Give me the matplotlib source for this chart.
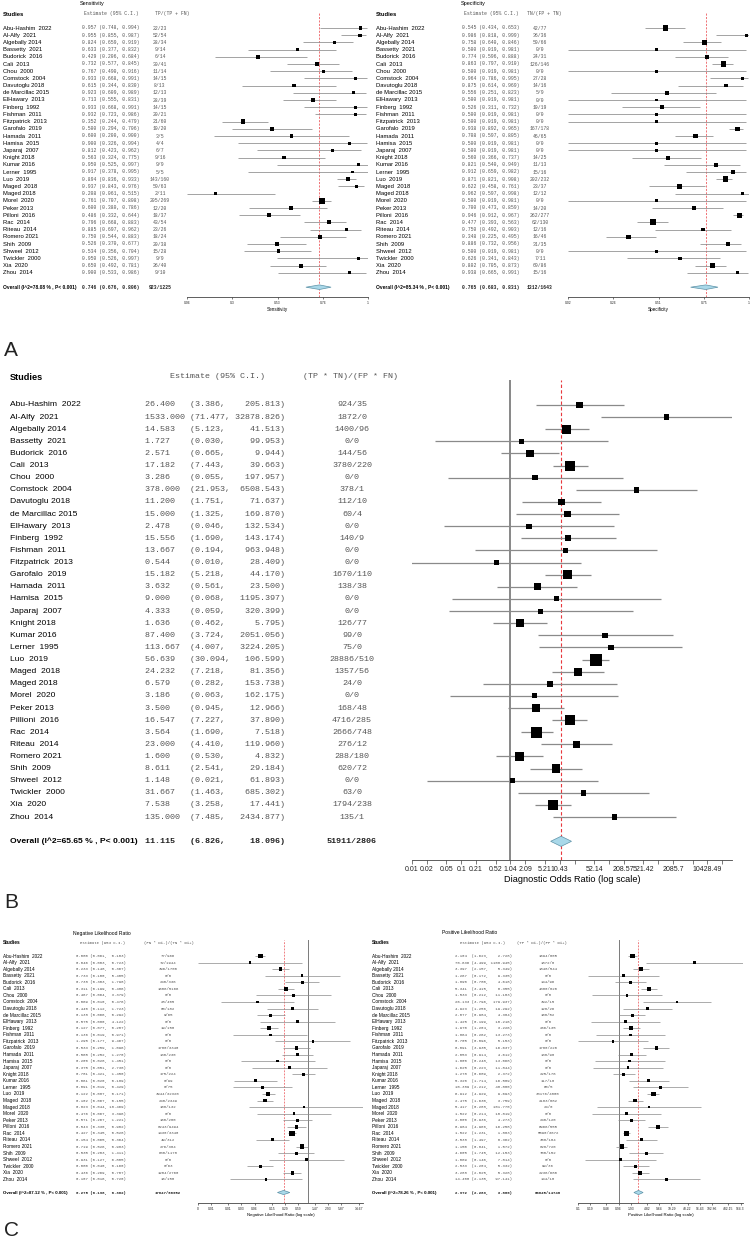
import numpy as np
import matplotlib
matplotlib.use("Agg")
import matplotlib.pyplot as plt
from matplotlib import transforms

W, H = 750, 1240

studies = ["Abu-Hashim  2022", "Al-Alfy  2021", "Algebally 2014", "Bassetty  2021", "Budorick  2016",
           "Cali  2013", "Chou  2000", "Comstock  2004", "Davutoglu 2018", "de Marcillac 2015",
           "ElHawary  2013", "Finberg  1992", "Fishman  2011", "Fitzpatrick  2013", "Garofalo  2019",
           "Hamada  2011", "Hamisa  2015", "Japaraj  2007", "Knight 2018", "Kumar 2016",
           "Lerner  1995", "Luo  2019", "Maged  2018", "Maged 2018", "Morel  2020",
           "Peker 2013", "Pilloni  2016", "Rac  2014", "Riteau  2014", "Romero 2021",
           "Shih  2009", "Shweel  2012", "Twickler  2000", "Xia  2020", "Zhou  2014"]
studies_b = [s.replace("Pilloni", "Pillioni") for s in studies]

# sensitivity
sens_est = [0.957, 0.955, 0.824, 0.633, 0.429, 0.732, 0.767, 0.933, 0.615, 0.923, 0.713, 0.933, 0.932, 0.352,
            0.500, 0.600, 0.900, 0.812, 0.563, 0.950, 0.917, 0.894, 0.937, 0.208, 0.761, 0.600, 0.486, 0.796,
            0.885, 0.750, 0.526, 0.534, 0.950, 0.650, 0.900]
sens_lo = [0.748, 0.855, 0.659, 0.377, 0.206, 0.577, 0.490, 0.668, 0.344, 0.609, 0.555, 0.668, 0.723, 0.244,
           0.294, 0.200, 0.326, 0.423, 0.324, 0.525, 0.378, 0.836, 0.843, 0.061, 0.707, 0.380, 0.332, 0.668,
           0.697, 0.544, 0.370, 0.356, 0.526, 0.492, 0.533]
sens_hi = [0.994, 0.987, 0.919, 0.832, 0.684, 0.845, 0.916, 0.991, 0.830, 0.989, 0.831, 0.991, 0.986, 0.479,
           0.706, 0.900, 0.994, 0.962, 0.775, 0.997, 0.995, 0.933, 0.976, 0.515, 0.808, 0.786, 0.644, 0.883,
           0.962, 0.883, 0.677, 0.704, 0.997, 0.781, 0.986]
sens_n = ["22/23", "52/54", "28/34", "9/14", "6/14", "30/41", "11/14", "14/15", "8/13", "12/13", "28/39",
          "14/15", "20/21", "21/60", "10/20", "3/5", "4/4", "6/7", "9/16", "9/9", "5/5", "143/160", "59/63",
          "2/11", "205/269", "12/20", "18/37", "43/54", "23/26", "18/24", "20/38", "15/28", "9/9", "26/40", "9/10"]
sens_overall = [0.746, 0.676, 0.806]
sens_overall_n = "923/1225"
sens_i2 = "78.08"

# specificity
spec_est = [0.545, 0.986, 0.758, 0.500, 0.774, 0.863, 0.500, 0.964, 0.875, 0.556, 0.500, 0.526, 0.500, 0.500,
            0.938, 0.708, 0.500, 0.500, 0.560, 0.821, 0.912, 0.871, 0.622, 0.962, 0.500, 0.700, 0.946, 0.477,
            0.750, 0.348, 0.886, 0.500, 0.626, 0.802, 0.938]
spec_lo = [0.434, 0.818, 0.640, 0.019, 0.596, 0.797, 0.019, 0.786, 0.614, 0.251, 0.019, 0.311, 0.019, 0.019,
           0.892, 0.597, 0.019, 0.019, 0.366, 0.540, 0.659, 0.821, 0.458, 0.597, 0.019, 0.473, 0.912, 0.393,
           0.492, 0.225, 0.732, 0.019, 0.341, 0.705, 0.665]
spec_hi = [0.653, 0.999, 0.846, 0.981, 0.888, 0.910, 0.981, 0.995, 0.969, 0.823, 0.981, 0.732, 0.981, 0.981,
           0.965, 0.805, 0.981, 0.981, 0.737, 0.949, 0.982, 0.908, 0.761, 0.998, 0.981, 0.859, 0.967, 0.563,
           0.903, 0.495, 0.956, 0.981, 0.843, 0.873, 0.991]
spec_n = ["42/77", "36/36", "50/66", "0/0", "24/31", "126/146", "0/0", "27/28", "14/16", "5/9", "0/0",
          "10/19", "0/0", "0/0", "167/178", "46/65", "0/0", "0/0", "14/25", "11/13", "15/16", "202/232",
          "23/37", "12/12", "0/0", "14/20", "262/277", "62/130", "12/16", "16/46", "31/35", "0/0", "7/11",
          "69/86", "15/16"]
spec_overall = [0.765, 0.683, 0.831]
spec_overall_n = "1312/1643"
spec_i2 = "85.34"

# diagnostic odds ratio
dor_est = [26.400, 1533.000, 14.583, 1.727, 2.571, 17.182, 3.286, 378.000, 11.200, 15.000, 2.478, 15.556,
           13.667, 0.544, 15.182, 3.632, 9.000, 4.333, 1.636, 87.400, 113.667, 56.639, 24.232, 6.579, 3.186,
           3.500, 16.547, 3.564, 23.000, 1.600, 8.611, 1.148, 31.667, 7.538, 135.000]
dor_lo = [3.386, 71.477, 5.123, 0.030, 0.665, 7.443, 0.055, 21.953, 1.751, 1.325, 0.046, 1.690, 0.194, 0.010,
          5.218, 0.561, 0.068, 0.059, 0.462, 3.724, 4.007, 30.094, 7.218, 0.282, 0.063, 0.945, 7.227, 1.690,
          4.410, 0.530, 2.541, 0.021, 1.463, 3.258, 7.485]
dor_hi = [205.813, 32878.826, 41.513, 99.953, 9.944, 39.663, 197.957, 6508.543, 71.637, 169.870, 132.534,
          143.174, 963.948, 28.409, 44.170, 23.500, 1195.397, 320.399, 5.795, 2051.056, 3224.205, 106.599,
          81.356, 153.738, 162.175, 12.966, 37.890, 7.518, 119.960, 4.832, 29.184, 61.893, 685.302, 17.441,
          2434.877]
dor_n = ["924/35", "1872/0", "1400/96", "0/0", "144/56", "3780/220", "0/0", "378/1", "112/10", "60/4", "0/0",
         "140/9", "0/0", "0/0", "1670/110", "138/38", "0/0", "0/0", "126/77", "99/0", "75/0", "28886/510",
         "1357/56", "24/0", "0/0", "168/48", "4716/285", "2666/748", "276/12", "288/180", "620/72", "0/0",
         "63/0", "1794/238", "135/1"]
dor_overall = [11.115, 6.826, 18.096]
dor_overall_n = "51911/2806"
dor_i2 = "65.65"
dor_tick_base = 0.01042849

# negative likelihood ratio
nlr_est = [0.080, 0.046, 0.233, 0.733, 0.738, 0.311, 0.467, 0.069, 0.440, 0.138, 0.575, 0.127, 0.136, 1.295,
           0.533, 0.565, 0.200, 0.375, 0.781, 0.061, 0.091, 0.122, 0.102, 0.823, 0.476, 0.571, 0.543, 0.427,
           0.154, 0.719, 0.535, 0.931, 0.080, 0.436, 0.107]
nlr_lo = [0.061, 0.003, 0.148, 0.100, 0.303, 0.199, 0.064, 0.010, 0.112, 0.066, 0.080, 0.077, 0.019, 0.177,
          0.259, 0.252, 0.028, 0.051, 0.421, 0.020, 0.019, 0.087, 0.067, 0.044, 0.067, 0.267, 0.330, 0.345,
          0.065, 0.526, 0.203, 0.127, 0.040, 0.269, 0.016]
nlr_hi = [0.103, 0.723, 0.367, 5.405, 1.798, 0.486, 3.379, 0.476, 1.723, 0.292, 4.122, 0.207, 0.971, 9.467,
          1.096, 1.270, 1.451, 2.738, 1.450, 0.189, 0.429, 0.171, 0.155, 18.469, 3.396, 1.221, 0.902, 0.528,
          0.364, 0.983, 1.411, 6.805, 0.160, 0.707, 0.720]
nlr_n = ["77/966", "72/1944", "396/1700", "0/0", "240/336", "1606/5166", "0/0", "28/405", "80/182", "9/65",
         "0/0", "19/150", "0/0", "0/0", "1780/3340", "130/230", "0/0", "0/0", "175/224", "0/99", "0/75",
         "3944/32320", "240/2349", "108/132", "0/0", "160/280", "8243/9494", "1430/3340", "49/312", "276/384",
         "630/1178", "0/0", "0/63", "1204/2760", "16/150"]
nlr_overall = [0.275, 0.198, 0.382]
nlr_overall_n = "17847/66952"
nlr_i2 = "87.12"
nlr_tick_base = 0.002934

# positive likelihood ratio
plr_est = [2.104, 70.636, 3.397, 1.267, 1.890, 5.341, 1.533, 26.133, 4.923, 2.077, 1.425, 1.970, 1.864, 0.705,
           8.091, 2.053, 1.800, 1.625, 1.278, 5.320, 10.389, 6.912, 2.475, 5.417, 1.522, 2.000, 8.984, 1.522,
           3.538, 1.150, 4.605, 1.069, 2.533, 3.288, 14.400]
plr_lo = [1.623, 4.499, 2.157, 0.172, 0.780, 3.415, 0.212, 3.796, 1.256, 0.984, 0.199, 1.204, 0.262, 0.096,
          3.935, 0.914, 0.248, 0.223, 0.689, 1.714, 2.212, 4.929, 1.630, 0.288, 0.214, 0.936, 4.966, 1.231,
          1.497, 0.841, 1.745, 0.146, 1.204, 2.025, 2.135]
plr_hi = [2.728, 1108.945, 5.349, 9.335, 4.618, 8.355, 11.103, 179.937, 19.292, 4.384, 10.216, 3.226, 13.273,
          5.153, 16.637, 4.612, 13.068, 11.844, 2.372, 16.509, 48.800, 9.693, 3.759, 101.770, 10.819, 4.273,
          16.258, 1.883, 8.362, 1.572, 12.153, 7.814, 5.332, 5.328, 97.141]
plr_n = ["1694/805", "1872/0", "1848/544", "0/0", "144/96", "4380/820", "0/0", "392/15", "128/26", "108/52",
         "0/0", "266/135", "0/0", "0/0", "1780/220", "138/98", "0/0", "0/0", "225/176", "117/18", "60/5",
         "33176/4800", "2183/882", "24/0", "0/0", "240/120", "6966/555", "5590/3672", "368/104", "828/720",
         "700/152", "0/0", "99/36", "2236/680", "144/10"]
plr_overall = [2.972, 2.289, 3.860]
plr_overall_n = "63845/14740"
plr_i2 = "78.26"
plr_tick_base = 0.09643

NAME_FONT = "Liberation Sans"
MONO_FONT = "Liberation Mono"
TXT_GREY = "#555555"


def ci_strings(est, lo, hi):
    e = ["%.3f" % v for v in est]
    l = ["(%.3f," % v for v in lo]
    h = ["%.3f)" % v for v in hi]
    we = max(len(s) for s in e) + 1
    wl = max(len(s) for s in l) + 1
    wh = max(len(s) for s in h)
    return [a.ljust(we) + b.ljust(wl) + c.rjust(wh) for a, b, c in zip(e, l, h)]


def fmt_tick(v):
    s = "%.2f" % (v + 1e-9)
    return s.rstrip("0").rstrip(".")


def label_width(s, em):
    return sum(0.278 if c == "." else 0.556 for c in s) * em


def forest(fig, L, names, est, lo, hi, ratio, ov, ov_n, i2, xlabel, log, tick_base=None,
           title=None, ratio_head=""):
    x0, x1, top, bot = L["box"]
    y1, p = L["row1"], L["pitch"]
    ax = fig.add_axes([x0 / W, 1 - bot / H, (x1 - x0) / W, (bot - top) / H])
    n = len(names)
    est, lo, hi = np.array(est), np.array(lo), np.array(hi)
    ax.set_ylim((bot - y1) / p, (top - y1) / p)
    rows = np.arange(n)
    yo = n + 1

    if log:
        ax.set_xscale("log")
        xmin, xmax = tick_base, hi.max()
        f = np.log
    else:
        xmin, xmax = lo.min(), hi.max()
        f = lambda v: np.log(v / (1 - v))
    ax.set_xlim(xmin, xmax)

    # CI lines and weighted squares
    ax.hlines(rows, lo, hi, color="#8a8a8a", lw=L["lw"], zorder=2)
    se = (f(hi) - f(lo)) / 3.92
    w = 1 / se ** 2
    side = L["smin"] + (L["smax"] - L["smin"]) * (w / w.max()) ** 0.45
    ax.scatter(est, rows, marker="s", s=(side * 0.72) ** 2, color="black", linewidths=0, zorder=3)

    hd = L["dh"]
    ax.fill([ov[1], ov[0], ov[2], ov[0]], [yo, yo - hd, yo, yo + hd], facecolor="#a9d8e9",
            edgecolor="#5e93a8", lw=0.5, zorder=4)
    ax.axvline(ov[0], color="#e8383d", ls=(0, (3, 2)), lw=L["lw"] * 0.9, zorder=1)
    if log:
        ax.axvline(1, color="#7a7a7a", lw=L["lw"] * 1.4, zorder=1)

    for s in ["top", "right", "left"]:
        ax.spines[s].set_visible(False)
    ax.spines["bottom"].set_color("#444444")
    ax.spines["bottom"].set_linewidth(0.6)
    ax.set_yticks([])
    ax.minorticks_off()

    # ticks, dropping labels that would collide
    if log:
        mult = np.array([m * 10.0 ** k for k in range(9) for m in (1, 2, 5)])
        ticks = tick_base * mult
        ticks = ticks[ticks <= xmax * 1.0001]
    else:
        ticks = np.linspace(xmin, xmax, 5)
    labels = [fmt_tick(t) for t in ticks]
    em = L["tick_fs"] / 0.72
    span = (np.log(xmax) - np.log(xmin)) if log else (xmax - xmin)
    shown, last_right = [], -1e9
    for t, s in zip(ticks, labels):
        pos = x0 + ((np.log(t) - np.log(xmin)) if log else (t - xmin)) / span * (x1 - x0)
        wd = label_width(s, em)
        if pos - wd / 2 >= last_right - 0.35 * em:
            shown.append(s)
            last_right = pos + wd / 2
        else:
            shown.append("")
    ax.set_xticks(ticks)
    ax.set_xticklabels(shown, fontsize=L["tick_fs"], family=NAME_FONT, color="#222222")
    ax.tick_params(axis="x", length=L["tlen"], width=0.5, color="#444444", pad=1.5)
    ax.set_xlabel(xlabel, fontsize=L["xl_fs"], family=NAME_FONT, labelpad=1)

    # text columns
    tr = transforms.blended_transform_factory(fig.transFigure, ax.transData)
    ci = ci_strings(list(est) + [ov[0]], list(lo) + [ov[1]], list(hi) + [ov[2]])
    nx, ex, rx = L["name_x"] / W, L["est_x"] / W, L["ratio_x"] / W
    for i in range(n):
        ax.text(nx, i, names[i], transform=tr, fontsize=L["name_fs"], family=NAME_FONT,
                va="center", ha="left")
        ax.text(ex, i, ci[i], transform=tr, fontsize=L["mono_fs"], family=MONO_FONT,
                va="center", ha="left", color=TXT_GREY)
        ax.text(rx, i, ratio[i], transform=tr, fontsize=L["mono_fs"], family=MONO_FONT,
                va="center", ha="center", color=TXT_GREY)
    ax.text(nx, yo, "Overall (I^2=%s %% , P< 0.001)" % i2, transform=tr, fontsize=L["ov_fs"],
            family=NAME_FONT, weight="bold", va="center", ha="left")
    ax.text(ex, yo, ci[-1], transform=tr, fontsize=L["mono_fs"], family=MONO_FONT,
            weight="bold", va="center", ha="left", color="#222222")
    ax.text(rx, yo, ov_n, transform=tr, fontsize=L["mono_fs"], family=MONO_FONT,
            weight="bold", va="center", ha="center", color="#222222")

    hy = L["head_y"]
    ax.text(nx, hy, "Studies", transform=tr, fontsize=L["head_fs"], family=NAME_FONT,
            weight="bold", va="center", ha="left")
    ax.text(L["est_head_x"] / W, hy, "Estimate (95% C.I.)", transform=tr, fontsize=L["mono_fs"],
            family=MONO_FONT, va="center", ha="left", color=TXT_GREY)
    ax.text(L["ratio_head_x"] / W, hy, ratio_head, transform=tr, fontsize=L["mono_fs"],
            family=MONO_FONT, va="center", ha="left", color=TXT_GREY)
    if title:
        ax.text(L["title_x"] / W, L["title_y"], title, transform=tr, fontsize=L["title_fs"],
                family=NAME_FONT, va="center", ha="center")
    return ax


def rows_for(row1, pitch, px):
    return (px - row1) / pitch


fig = plt.figure(figsize=(W / 100, H / 100), dpi=100)
fig.patch.set_facecolor("white")

small_a = dict(row1=28, pitch=7.2, lw=0.55, smin=2.4, smax=6.0, dh=0.32, tick_fs=2.4, xl_fs=3.3,
               tlen=1.5, name_fs=4.2, ov_fs=3.5, head_fs=4.2, title_fs=4.0, mono_fs=3.4)
small_a["head_y"] = rows_for(28, 7.2, 14)
small_a["title_y"] = rows_for(28, 7.2, 4)

La = dict(small_a, box=(187, 368, 12, 297), name_x=3, est_x=82, ratio_x=160, est_head_x=84,
          ratio_head_x=155, title_x=92)
forest(fig, La, studies, sens_est, sens_lo, sens_hi, sens_n, sens_overall, sens_overall_n, sens_i2,
       "Sensitivity", False, title="Sensitivity", ratio_head="TP/(TP + FN)")

Lb = dict(small_a, box=(568, 749, 12, 297), name_x=376, est_x=462, ratio_x=540, est_head_x=464,
          ratio_head_x=527, title_x=473)
forest(fig, Lb, studies, spec_est, spec_lo, spec_hi, spec_n, spec_overall, spec_overall_n, spec_i2,
       "Specificity", False, title="Specificity", ratio_head="TN/(FP + TN)")

Ld = dict(box=(412, 732, 380, 860), row1=405, pitch=12.12, lw=0.9, smin=3.5, smax=12.0, dh=0.42,
          tick_fs=5.0, xl_fs=6.6, tlen=3, name_fs=6.1, ov_fs=6.1, head_fs=6.6, mono_fs=6.0, name_x=10,
          est_x=145, ratio_x=352, est_head_x=170, ratio_head_x=303, head_y=rows_for(405, 12.12, 377))
forest(fig, Ld, studies_b, dor_est, dor_lo, dor_hi, dor_n, dor_overall, dor_overall_n, dor_i2,
       "Diagnostic Odds Ratio (log scale)", True, tick_base=dor_tick_base,
       ratio_head="(TP * TN)/(FP * FN)")

small_c = dict(row1=956, pitch=6.57, lw=0.5, smin=2.0, smax=5.5, dh=0.32, tick_fs=2.4, xl_fs=3.1,
               tlen=1.5, name_fs=3.4, ov_fs=3.2, head_fs=3.5, title_fs=3.6, mono_fs=2.9)
small_c["head_y"] = rows_for(956, 6.57, 943)
small_c["title_y"] = rows_for(956, 6.57, 933)

Ln = dict(small_c, box=(198, 363, 940, 1203), name_x=3, est_x=76, ratio_x=168, est_head_x=80,
          ratio_head_x=144, title_x=102)
forest(fig, Ln, studies, nlr_est, nlr_lo, nlr_hi, nlr_n, nlr_overall, nlr_overall_n, nlr_i2,
       "Negative Likelihood Ratio (log scale)", True, tick_base=nlr_tick_base,
       title="Negative Likelihood Ratio", ratio_head="(FN * Di-)/(TN * Di+)")

Lp = dict(small_c, box=(578, 743, 940, 1203), name_x=372, est_x=455, ratio_x=548, est_head_x=460,
          ratio_head_x=517, title_x=470)
forest(fig, Lp, studies, plr_est, plr_lo, plr_hi, plr_n, plr_overall, plr_overall_n, plr_i2,
       "Positive Likelihood Ratio (log scale)", True, tick_base=plr_tick_base,
       title="Positive Likelihood Ratio", ratio_head="(TP * Di-)/(FP * Di+)")

for lab, ypx in [("A", 351), ("B", 902), ("C", 1231)]:
    fig.text(4 / W, 1 - ypx / H, lab, fontsize=15, family=NAME_FONT, va="center", ha="left",
             color="#222222")

fig.savefig("out.png", dpi=100, facecolor="white")
